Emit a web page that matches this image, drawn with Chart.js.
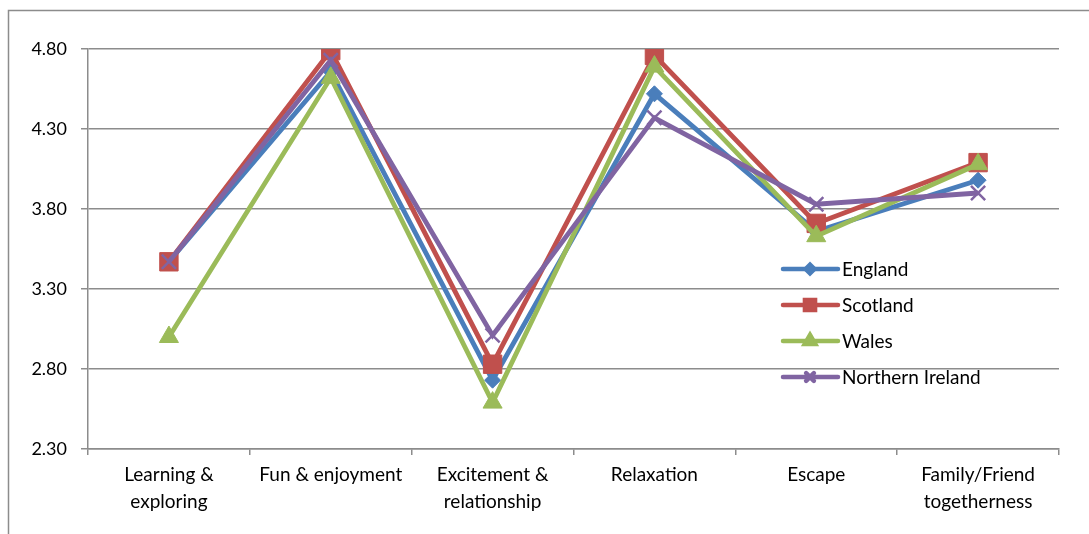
<!DOCTYPE html>
<html>
<head>
<meta charset="utf-8">
<script src="https://cdn.jsdelivr.net/npm/chart.js@4.4.1/dist/chart.umd.min.js"></script>
<style>
  html, body { margin: 0; padding: 0; background: #fff; }
  #wrap { width: 1089px; height: 534px; position: relative; }
</style>
</head>
<body>
<div id="wrap"><canvas id="chart"></canvas></div>
<script>
// categories and values per nation
const categories = [
  ['Learning &', 'exploring'],
  'Fun & enjoyment',
  ['Excitement &', 'relationship'],
  'Relaxation',
  'Escape',
  ['Family/Friend', 'togetherness']
];
const england  = [3.47, 4.66, 2.73, 4.52, 3.66, 3.98];
const scotland = [3.47, 4.79, 2.83, 4.76, 3.71, 4.09];
const wales    = [3.00, 4.62, 2.59, 4.69, 3.63, 4.08];
const nIreland = [3.47, 4.73, 3.01, 4.37, 3.83, 3.90];
const yTicks = [2.30, 2.80, 3.30, 3.80, 4.30, 4.80];

const FONT = 'Lato, "Open Sans", sans-serif';

function series(label, data, color, style, radius, order) {
  return {
    label, data, order,
    borderColor: color,
    backgroundColor: color,
    borderWidth: 4.8,
    pointStyle: style,
    pointRadius: radius,
    pointBorderWidth: style === 'crossRot' ? 2.5 : 1,
    pointBorderColor: color,
    pointBackgroundColor: color,
    tension: 0
  };
}

const datasets = [
  series('England', england, '#4A7EBB', 'rectRot', 8, 4),
  series('Scotland', scotland, '#C0504D', 'rect', 13, 3),
  series('Wales', wales, '#9BBB59', 'triangle', 11, 2),
  series('Northern Ireland', nIreland, '#8064A2', 'crossRot', 10, 1)
];

// outer frame + legend inside the plot
const decor = {
  id: 'decor',
  beforeDraw(chart) {
    const c = chart.ctx;
    c.save();
    c.strokeStyle = '#8c8c8c';
    c.lineWidth = 1.5;
    c.beginPath();
    c.moveTo(8.5, 534);
    c.lineTo(8.5, 10.5);
    c.lineTo(1089, 10.5);
    c.stroke();
    c.restore();
  },
  afterDraw(chart) {
    const c = chart.ctx;
    c.save();
    c.font = '19px ' + FONT;
    c.textBaseline = 'middle';
    const x0 = 783, y0 = 269, gap = 36;
    datasets.forEach((ds, i) => {
      const y = y0 + i * gap;
      c.strokeStyle = ds.borderColor;
      c.lineWidth = 4.5;
      c.lineCap = 'round';
      c.beginPath();
      c.moveTo(x0, y);
      c.lineTo(x0 + 55, y);
      c.stroke();
      Chart.helpers.drawPoint(c, {
        pointStyle: ds.pointStyle,
        radius: ds.pointRadius * 0.55,
        borderWidth: ds.pointBorderWidth,
        rotation: 0
      }, x0 + 27, y);
      c.fillStyle = ds.borderColor;
      if (ds.pointStyle !== 'crossRot') c.fill();
      c.fillStyle = '#000';
      c.fillText(ds.label, x0 + 59, y + 1);
    });
    c.restore();
  }
};

new Chart(document.getElementById('chart'), {
  type: 'line',
  data: { labels: categories, datasets },
  plugins: [decor],
  options: {
    responsive: true,
    maintainAspectRatio: false,
    animation: false,
    layout: { padding: { top: 49, right: 30, left: 0, bottom: 0 } },
    plugins: { legend: { display: false }, tooltip: { enabled: false } },
    scales: {
      x: {
        offset: true,
        grid: { offset: true, drawOnChartArea: false, drawTicks: true, tickLength: 6, color: '#8c8c8c', lineWidth: 1.5 },
        border: { color: '#8c8c8c', width: 1.5 },
        ticks: { color: '#000', font: { family: FONT, size: 19, lineHeight: 1.4 }, padding: 7, maxRotation: 0, autoSkip: false },
        afterFit(scale) { scale.height = 534 - 449; }
      },
      y: {
        min: 2.3,
        max: 4.8,
        afterBuildTicks(scale) { scale.ticks = yTicks.map(v => ({ value: v })); },
        grid: { color: '#8c8c8c', lineWidth: 1.5, tickLength: 7 },
        border: { color: '#8c8c8c', width: 1.5 },
        ticks: {
          color: '#000', font: { family: FONT, size: 18 }, padding: 14,
          callback: v => Number(v).toFixed(2)
        },
        afterFit(scale) { scale.width = 88; }
      }
    }
  }
});
</script>
</body>
</html>
